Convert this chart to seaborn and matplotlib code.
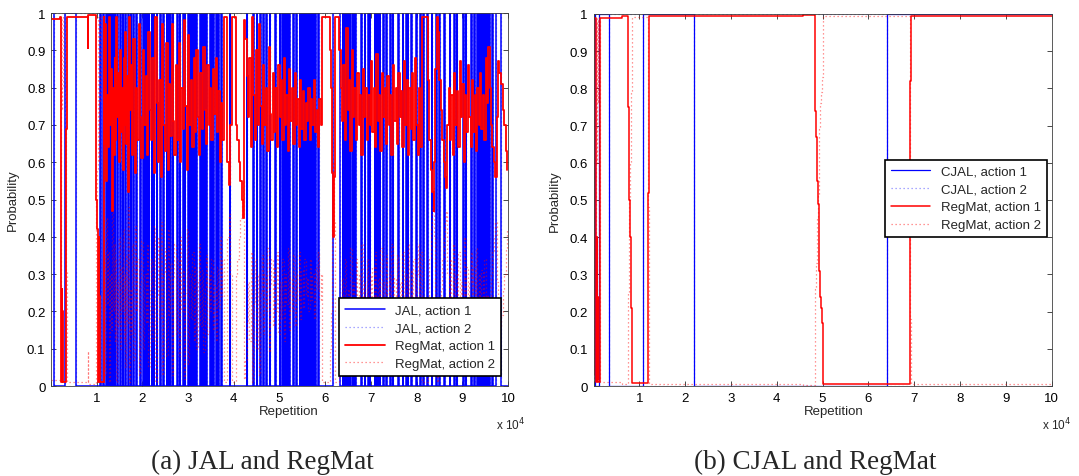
import numpy as np
import pandas as pd
import matplotlib
matplotlib.use("Agg")
import matplotlib.pyplot as plt
import seaborn as sns

# ---------------- data (x in units of 1e4 repetitions) ----------------
# (a) JAL action-1 probability is 1 inside these intervals, 0 elsewhere
jal_on = [0.00, 0.30, 1.07, 1.14, 1.20, 1.25, 1.28, 1.30, 1.32, 1.34, 1.37, 1.39,
          1.44, 1.51, 1.57, 1.62, 1.69, 1.74, 1.80, 1.87, 1.95,
          2.02, 2.04, 2.07, 2.09, 2.12, 2.14, 2.20, 2.25, 2.31, 2.38, 2.46, 2.53,
          2.57, 2.60, 2.67, 2.75, 2.82, 2.88, 2.93, 3.00,
          3.05, 3.07, 3.10, 3.12, 3.15, 3.17, 3.25, 3.27, 3.30, 3.32, 3.35, 3.37,
          3.40, 3.47, 3.49, 3.52, 3.54, 3.61, 3.66, 3.73, 3.91, 4.28, 4.42, 4.50,
          4.57, 4.64, 4.71, 4.79, 4.90, 5.00,
          5.06, 5.08, 5.11, 5.13, 5.16, 5.18, 5.21, 5.23, 5.30, 5.37, 5.44,
          5.47, 5.49, 5.52, 5.54, 5.57, 5.59, 5.62, 5.66, 5.68, 5.71, 5.73, 5.76,
          5.78, 5.84, 6.17,
          6.38, 6.41, 6.44, 6.47, 6.50, 6.54, 6.58, 6.62, 6.66, 6.79, 6.86, 6.94,
          6.97, 7.08, 7.12, 7.15, 7.19, 7.26, 7.34, 7.41, 7.48, 7.59, 7.70, 7.77,
          7.81, 7.88, 7.99, 8.08, 8.15, 8.23, 8.33, 8.43, 8.50, 8.61, 8.72, 8.81,
          8.88, 9.01, 9.08, 9.19, 9.26, 9.33,
          9.37, 9.39, 9.42, 9.44, 9.47, 9.49, 9.52, 9.54, 9.57, 9.59, 9.65, 9.74]
jal_off = [0.06, 0.55, 1.09, 1.16, 1.22, 1.27, 1.29, 1.31, 1.33, 1.36, 1.38, 1.41,
           1.46, 1.53, 1.58, 1.64, 1.71, 1.75, 1.82, 1.88, 1.97,
           2.03, 2.06, 2.08, 2.11, 2.13, 2.15, 2.22, 2.26, 2.33, 2.40, 2.48, 2.54,
           2.58, 2.62, 2.68, 2.77, 2.83, 2.90, 2.94, 3.01,
           3.06, 3.09, 3.11, 3.14, 3.16, 3.19, 3.26, 3.29, 3.31, 3.34, 3.36, 3.39,
           3.42, 3.48, 3.51, 3.53, 3.56, 3.63, 3.67, 3.75, 3.92, 4.29, 4.44, 4.51,
           4.59, 4.65, 4.73, 4.80, 4.92, 5.01,
           5.07, 5.10, 5.12, 5.15, 5.17, 5.20, 5.22, 5.24, 5.32, 5.38, 5.45,
           5.48, 5.51, 5.53, 5.56, 5.58, 5.61, 5.63, 5.67, 5.70, 5.72, 5.75, 5.77,
           5.79, 5.86, 6.32,
           6.39, 6.43, 6.45, 6.49, 6.52, 6.55, 6.60, 6.63, 6.68, 6.80, 6.88, 6.95,
           6.99, 7.09, 7.13, 7.17, 7.20, 7.28, 7.35, 7.43, 7.49, 7.61, 7.71, 7.79,
           7.82, 7.90, 8.00, 8.10, 8.16, 8.25, 8.34, 8.45, 8.51, 8.63, 8.73, 8.83,
           8.89, 9.03, 9.09, 9.21, 9.27, 9.35,
           9.38, 9.41, 9.43, 9.46, 9.48, 9.51, 9.53, 9.56, 9.58, 9.61, 9.67, 9.84]

# (a) RegMat action-1 probability
regmat_a_x = [0.00, 0.20, 0.21, 0.22, 0.23, 0.24, 0.25, 0.26, 0.31, 0.32, 0.34, 0.35,
              0.80, 0.81, 0.82, 0.97, 0.98, 1.00, 1.01, 1.03, 1.04, 1.06, 1.08, 1.14,
              1.15, 1.17, 1.19, 1.21, 1.23, 1.25, 1.27, 1.29, 1.31, 1.33, 1.35, 1.37,
              1.39, 1.41, 1.43, 1.45, 1.47, 1.49, 1.51, 1.53, 1.55, 1.57, 1.59, 1.61,
              1.63, 1.65, 1.67, 1.69, 1.71, 1.73, 1.75, 1.77, 1.80, 1.83, 1.86, 1.89,
              1.92, 1.95, 1.98, 2.01, 2.04, 2.07, 2.10, 2.13, 2.16, 2.19, 2.22, 2.25,
              2.28, 2.31, 2.34, 2.37, 2.40, 2.43, 2.46, 2.49, 2.52, 2.55, 2.58, 2.61,
              2.64, 2.67, 2.70, 2.73, 2.76, 2.79, 2.82, 2.85, 2.88, 2.91, 2.94, 2.97,
              3.00, 3.03, 3.06, 3.09, 3.12, 3.15, 3.18, 3.21, 3.24, 3.27, 3.30, 3.33,
              3.36, 3.39, 3.42, 3.45, 3.48, 3.51, 3.54, 3.57, 3.60, 3.63, 3.66, 3.69,
              3.72, 3.75, 3.78, 3.84, 3.86, 3.89, 3.91, 3.95, 3.97, 4.02, 4.04, 4.08,
              4.11, 4.14, 4.17, 4.20, 4.22, 4.25, 4.28, 4.31, 4.34, 4.37, 4.40, 4.43,
              4.46, 4.49, 4.52, 4.55, 4.58, 4.61, 4.64, 4.67, 4.70, 4.73, 4.76, 4.79,
              4.82, 4.85, 4.88, 4.91, 4.94, 4.97, 5.00, 5.03, 5.06, 5.09, 5.12, 5.15,
              5.18, 5.21, 5.24, 5.27, 5.30, 5.33, 5.36, 5.39, 5.42, 5.45, 5.48, 5.51,
              5.54, 5.57, 5.60, 5.63, 5.66, 5.69, 5.72, 5.75, 5.78, 5.81, 5.84, 5.87,
              5.90, 5.93, 6.08, 6.10, 6.12, 6.14, 6.16, 6.18, 6.20, 6.22, 6.29, 6.31,
              6.34, 6.37, 6.40, 6.43, 6.46, 6.49, 6.52, 6.55, 6.58, 6.61, 6.64, 6.67,
              6.70, 6.73, 6.76, 6.79, 6.82, 6.85, 6.88, 6.91, 6.94, 6.97, 7.00, 7.03,
              7.06, 7.09, 7.12, 7.15, 7.18, 7.21, 7.24, 7.27, 7.30, 7.33, 7.36, 7.39,
              7.42, 7.45, 7.48, 7.51, 7.54, 7.57, 7.60, 7.63, 7.66, 7.69, 7.72, 7.75,
              7.78, 7.81, 7.84, 7.87, 7.90, 7.93, 7.96, 7.99, 8.02, 8.05, 8.08, 8.11,
              8.22, 8.25, 8.28, 8.31, 8.34, 8.37, 8.39, 8.41, 8.44, 8.47, 8.50, 8.53,
              8.56, 8.59, 8.62, 8.65, 8.67, 8.70, 8.73, 8.76, 8.79, 8.82, 8.85, 8.88,
              8.91, 8.94, 8.97, 9.00, 9.03, 9.06, 9.09, 9.12, 9.15, 9.18, 9.21, 9.24,
              9.27, 9.30, 9.33, 9.36, 9.39, 9.42, 9.45, 9.48, 9.51, 9.54, 9.57, 9.60,
              9.63, 9.66, 9.69, 9.72, 9.75, 9.78, 9.81, 9.84, 9.88, 9.92, 9.95, 9.98]
regmat_a_y = [0.985, 0.99, 0.35, 0.01, 0.26, 0.02, 0.20, 0.01, 0.01, 0.69, 0.75, 0.99,
              0.993, 0.905, 0.995, 0.995, 0.50, 0.48, 0.42, 0.01, 0.40, 0.24, 0.01, 0.01,
              0.99, 0.65, 0.97, 0.55, 0.78, 0.64, 0.99, 0.70, 0.85, 0.47, 0.80, 0.62,
              0.88, 0.66, 0.99, 0.72, 0.84, 0.60, 0.90, 0.68, 0.80, 0.58, 0.88, 0.70,
              0.95, 0.65, 0.83, 0.52, 0.99, 0.74, 0.86, 0.62, 0.93, 0.57, 0.80, 0.66,
              0.97, 0.72, 0.61, 0.90, 0.70, 0.83, 0.62, 0.95, 0.74, 0.66, 0.88, 0.57,
              0.99, 0.76, 0.60, 0.82, 0.56, 0.97, 0.70, 0.63, 0.92, 0.58, 0.81, 0.67,
              0.97, 0.71, 0.62, 0.86, 0.66, 0.92, 0.60, 0.80, 0.69, 0.98, 0.75, 0.58,
              0.94, 0.70, 0.82, 0.64, 0.88, 0.68, 0.90, 0.72, 0.62, 0.84, 0.69, 0.91,
              0.74, 0.65, 0.86, 0.70, 0.80, 0.66, 0.85, 0.73, 0.88, 0.68, 0.79, 0.60,
              0.76, 0.66, 0.99, 0.99, 0.60, 0.54, 0.70, 0.71, 0.99, 0.99, 0.70, 0.66,
              0.60, 0.55, 0.50, 0.45, 0.98, 0.93, 0.83, 0.72, 0.88, 0.64, 0.99, 0.78,
              0.66, 0.90, 0.70, 0.97, 0.75, 0.65, 0.86, 0.70, 0.80, 0.63, 0.91, 0.73,
              0.66, 0.84, 0.68, 0.80, 0.64, 0.86, 0.72, 0.82, 0.66, 0.88, 0.70, 0.78,
              0.63, 0.85, 0.71, 0.80, 0.65, 0.84, 0.70, 0.77, 0.64, 0.82, 0.69, 0.79,
              0.66, 0.76, 0.71, 0.80, 0.66, 0.77, 0.70, 0.82, 0.68, 0.74, 0.64, 0.77,
              0.70, 0.99, 0.99, 0.90, 0.80, 0.57, 0.44, 0.40, 0.56, 0.99, 0.99, 0.90,
              0.80, 0.71, 0.86, 0.66, 0.96, 0.74, 0.82, 0.63, 0.90, 0.72, 0.80, 0.66,
              0.84, 0.70, 0.78, 0.62, 0.85, 0.72, 0.80, 0.66, 0.78, 0.70, 0.87, 0.68,
              0.80, 0.64, 0.89, 0.71, 0.78, 0.63, 0.84, 0.72, 0.80, 0.65, 0.83, 0.70,
              0.78, 0.62, 0.86, 0.71, 0.80, 0.65, 0.84, 0.72, 0.79, 0.64, 0.87, 0.70,
              0.82, 0.62, 0.80, 0.69, 0.84, 0.66, 0.88, 0.70, 0.62, 0.80, 0.64, 0.99,
              0.99, 0.82, 0.66, 0.58, 0.52, 0.47, 0.60, 0.85, 0.99, 0.95, 0.82, 0.74,
              0.66, 0.60, 0.56, 0.53, 0.70, 0.80, 0.66, 0.78, 0.62, 0.84, 0.70, 0.79,
              0.64, 0.87, 0.72, 0.81, 0.60, 0.78, 0.68, 0.86, 0.72, 0.64, 0.82, 0.68,
              0.78, 0.63, 0.80, 0.70, 0.84, 0.69, 0.78, 0.66, 0.88, 0.76, 0.91, 0.80,
              0.70, 0.64, 0.60, 0.56, 0.72, 0.87, 0.84, 0.81, 0.74, 0.70, 0.63, 0.58]

# (b) CJAL action-1 probability is 1 inside these intervals
cjal_on = [0.00, 0.13, 1.08, 6.40]
cjal_off = [0.03, 0.34, 2.20, 10.0]

# (b) RegMat action-1 probability
regmat_b_x = [0.00, 0.01, 0.04, 0.05, 0.06, 0.07, 0.08, 0.09, 0.10, 0.13, 0.14, 0.15,
              0.62, 0.63, 0.74, 0.75, 0.77, 0.78, 0.80, 0.82, 0.84, 1.18, 1.19, 1.22,
              4.56, 4.57, 4.82, 4.84, 4.86, 4.88, 4.90, 4.92, 4.94, 4.96, 4.98, 5.00,
              5.02, 6.90, 6.92, 6.94, 10.0]
regmat_b_y = [0.03, 0.99, 0.99, 0.44, 0.01, 0.40, 0.02, 0.24, 0.01, 0.01, 0.76, 0.99,
              0.99, 0.995, 0.995, 0.75, 0.71, 0.50, 0.40, 0.21, 0.008, 0.008, 0.52, 0.995,
              0.995, 0.998, 0.998, 0.74, 0.67, 0.55, 0.49, 0.31, 0.24, 0.21, 0.17, 0.01,
              0.005, 0.005, 0.82, 0.995, 0.995]

x_ticks = list(range(0, 11))
x_tick_labels = [""] + [str(i) for i in range(1, 11)]
y_ticks = [0, 0.1, 0.2, 0.3, 0.4, 0.5, 0.6, 0.7, 0.8, 0.9, 1.0]
y_tick_labels = ["0", "0.1", "0.2", "0.3", "0.4", "0.5", "0.6", "0.7", "0.8", "0.9", "1"]
captions = ["(a) JAL and RegMat", "(b) CJAL and RegMat"]
legend_a = ["JAL, action 1", "JAL, action 2", "RegMat, action 1", "RegMat, action 2"]
legend_b = ["CJAL, action 1", "CJAL, action 2", "RegMat, action 1", "RegMat, action 2"]


def step_frame(on, off, xmax=10.0):
    xs, ys = [], []
    prev = 0.0
    for a, b in zip(on, off):
        if a > prev or not xs:
            xs.append(prev)
            ys.append(0 if a > prev else 1)
        xs.append(a)
        ys.append(1)
        xs.append(b)
        ys.append(0)
        prev = b
    if prev < xmax:
        xs.append(xmax)
        ys.append(0)
    else:
        ys[-1] = 1
    return pd.DataFrame({"x": xs, "p1": ys, "p2": [1 - v for v in ys]})


# ---------------- style ----------------
sns.set_theme(style="white")
plt.rcParams["font.family"] = ["Liberation Sans", "DejaVu Sans"]
plt.rcParams["axes.edgecolor"] = "#404040"
plt.rcParams["axes.linewidth"] = 0.6

W, H = 1079, 477
fig = plt.figure(figsize=(W / 100, H / 100), dpi=100)
axA = fig.add_axes([51 / W, 1 - 387 / H, 457 / W, 373 / H])
axB = fig.add_axes([593.5 / W, 1 - 387 / H, 458 / W, 372 / H])

BLUE = "#0000FF"
RED = "#FF0000"
DOT = (0, (1, 2.2))
FS = 9.5


def draw(ax, step_df, red_x, red_y, labels, blue_lw, red_lw):
    sns.lineplot(data=step_df, x="x", y="p1", ax=ax, estimator=None, sort=False,
                 drawstyle="steps-post", color=BLUE, linewidth=blue_lw, label=labels[0])
    sns.lineplot(data=step_df, x="x", y="p2", ax=ax, estimator=None, sort=False,
                 drawstyle="steps-post", color=BLUE, linewidth=0.9, alpha=0.45,
                 linestyle=DOT, label=labels[1])
    rdf = pd.DataFrame({"x": red_x, "p1": red_y, "p2": [1 - v for v in red_y]})
    sns.lineplot(data=rdf, x="x", y="p1", ax=ax, estimator=None, sort=False,
                 drawstyle="steps-post", color=RED, linewidth=red_lw, label=labels[2])
    sns.lineplot(data=rdf, x="x", y="p2", ax=ax, estimator=None, sort=False,
                 drawstyle="steps-post", color=RED, linewidth=0.9, alpha=0.55,
                 linestyle=DOT, label=labels[3])
    ax.set_xlim(0, 10)
    ax.set_ylim(0, 1)
    ax.set_xticks(x_ticks)
    ax.set_xticklabels(x_tick_labels, fontsize=FS)
    ax.set_yticks(y_ticks)
    ax.set_yticklabels(y_tick_labels, fontsize=FS)
    ax.tick_params(direction="in", length=3.5, width=0.5, top=True, right=True,
                   bottom=True, left=True, pad=4, colors="black", labelcolor="black")
    ax.set_xlabel("")
    ax.set_ylabel("Probability", fontsize=FS, labelpad=6)
    for sp in ax.spines.values():
        sp.set_visible(True)


draw(axA, step_frame(jal_on, jal_off), regmat_a_x, regmat_a_y, legend_a, 1.1, 1.3)
draw(axB, step_frame(cjal_on, cjal_off), regmat_b_x, regmat_b_y, legend_b, 0.9, 1.1)

for ax, anchor in ((axA, (0.985, 0.027)), (axB, (0.99, 0.40))):
    leg = ax.legend(loc="lower right", bbox_to_anchor=anchor, borderaxespad=0,
                    fontsize=FS, frameon=True, fancybox=False, handlelength=3.0,
                    handletextpad=0.8, labelspacing=0.42, borderpad=0.45)
    leg.get_frame().set_edgecolor("black")
    leg.get_frame().set_linewidth(1.2)
    leg.get_frame().set_facecolor("white")
    leg.get_frame().set_alpha(1)

# axis labels, multipliers and captions
for cx, mx in ((289, 511), (834, 1057)):
    fig.text(cx / W, 1 - 412 / H, "Repetition", ha="center", va="center", fontsize=FS)
    fig.text(mx / W, 1 - 425 / H, r"x 10$^{4}$", ha="center", va="center", fontsize=FS - 1)

for cx, cap in zip((262, 815), captions):
    fig.text(cx / W, 1 - 462 / H, cap, ha="center", va="center", fontsize=19.5,
             family=["Liberation Serif", "DejaVu Serif"])

fig.savefig("out.png", dpi=100)
